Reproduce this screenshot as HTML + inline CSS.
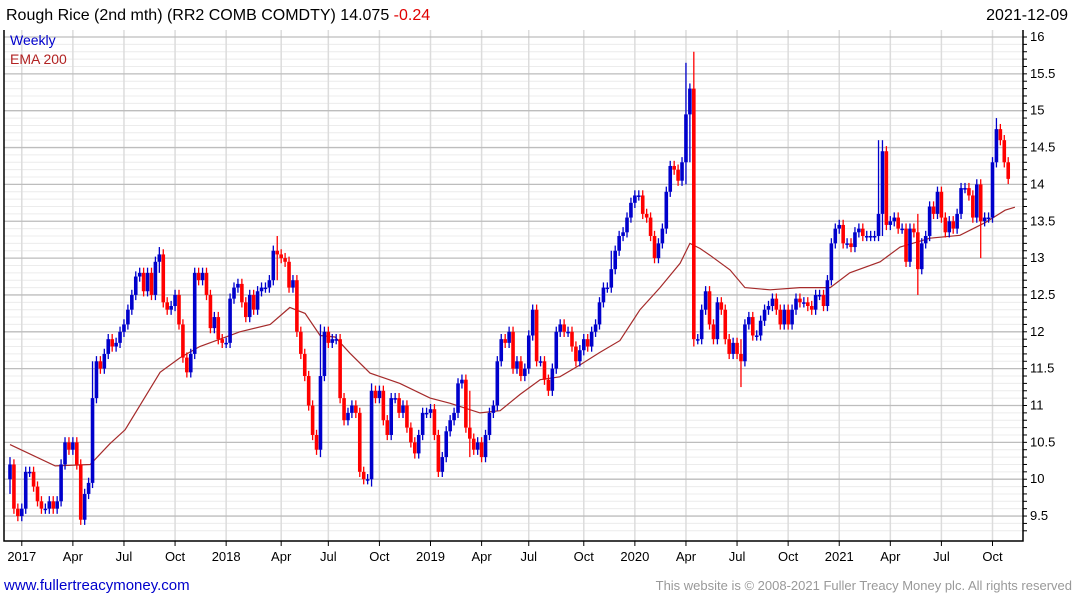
<!DOCTYPE html>
<html><head><meta charset="utf-8"><style>
body{margin:0;background:#fff;font-family:"Liberation Sans",sans-serif;}
svg text{font-family:"Liberation Sans",sans-serif;}
</style></head><body>
<svg id="chart" width="1075" height="600" xmlns="http://www.w3.org/2000/svg">
<text x="6" y="20" font-size="16" fill="#000">Rough Rice (2nd mth) (RR2 COMB COMDTY) 14.075 <tspan fill="#e00000">-0.24</tspan></text>
<text x="1068" y="20" font-size="16" text-anchor="end" fill="#000">2021-12-09</text>
<g id="grid"></g>
<g id="ema"></g>
<g id="candles"></g>
<g id="axes"></g>
<text x="10" y="45" font-size="14" fill="#0000cc">Weekly</text>
<text x="10" y="64" font-size="14" fill="#b22222">EMA 200</text>
<text x="4" y="590" font-size="15" fill="#0000cc">www.fullertreacymoney.com</text>
<text x="1072" y="590" font-size="13" text-anchor="end" fill="#999">This website is © 2008-2021 Fuller Treacy Money plc. All rights reserved</text>
</svg>
<script>
const closes=[10.2,9.6,9.5,9.6,10.1,10.1,9.9,9.7,9.6,9.6,9.7,9.6,9.7,10.2,10.5,
10.4,10.5,10.2,9.45,9.8,9.95,11.1,11.6,11.5,11.7,11.9,11.8,11.85,12.0,12.1,
12.3,12.5,12.75,12.8,12.55,12.8,12.5,12.95,13.05,12.4,12.3,12.35,12.5,12.1,11.65,
11.45,11.7,12.8,12.7,12.8,12.5,12.05,12.2,11.9,11.85,11.85,12.45,12.6,12.65,12.4,
12.2,12.5,12.3,12.55,12.6,12.6,12.7,13.1,13.05,13.0,12.95,12.6,12.7,12.0,11.7,
11.4,11.0,10.6,10.4,11.4,12.0,11.85,11.9,11.9,11.1,10.8,10.9,11.0,10.9,10.1,
10.0,10.0,11.2,11.1,11.2,10.8,10.6,11.1,11.1,10.9,11.0,10.7,10.5,10.35,10.6,
10.9,10.9,10.95,10.6,10.1,10.3,10.65,10.8,10.9,11.3,11.35,10.7,10.55,10.4,10.5,
10.3,10.6,10.9,11.0,11.6,11.9,11.85,12.0,11.5,11.6,11.4,11.5,11.95,12.3,11.6,
11.6,11.35,11.2,11.5,12.0,12.1,12.0,12.0,11.8,11.6,11.75,11.9,11.8,12.0,12.1,
12.4,12.6,12.6,12.85,13.1,13.3,13.35,13.55,13.75,13.85,13.85,13.6,13.55,13.3,13.0,
13.2,13.4,13.9,14.25,14.2,14.05,14.3,14.95,15.3,11.9,11.9,12.3,12.55,12.1,11.9,
12.4,12.3,11.9,11.7,11.85,11.7,11.6,12.1,12.2,11.95,11.95,12.15,12.3,12.35,12.45,
12.3,12.1,12.3,12.1,12.3,12.45,12.4,12.4,12.35,12.3,12.5,12.5,12.35,12.7,13.2,
13.4,13.45,13.2,13.2,13.15,13.35,13.4,13.3,13.3,13.3,13.3,13.6,14.45,13.45,13.5,
13.55,13.4,13.4,12.95,13.4,13.35,12.85,13.2,13.3,13.7,13.6,13.9,13.55,13.35,13.5,
13.4,13.6,13.95,13.95,13.85,13.55,14.0,13.5,13.55,13.55,14.3,14.75,14.6,14.3,14.075];
const firstOpen=10.0;
const spikeIdx=[0,21,38,68,79,92,117,153,172,173,174,186,221,222,231,247,251];
const spikeHigh=[10.3,11.6,13.15,13.3,12.1,11.3,11.2,13.1,15.65,15.3,15.8,11.9,14.6,14.6,13.6,13.6,14.9];
const spikeLow=[9.8,9.9,12.8,12.7,10.3,9.9,10.3,12.7,14.0,14.3,11.8,11.25,13.3,13.3,12.5,13.0,14.3];
const emaWeek=[0,11.5,20.4,25.4,29.3,38.2,43.3,48.3,58.5,66.2,71.2,75.1,78.9,82.7,86.5,91.6,99.2,106.9,112,119.6,124.7,129.8,134.9,139.9,145,150.1,155.2,160.3,165.4,170.5,173,175.6,178.1,183.2,187,193.4,201,208.7,213.7,221.4,226.5,234.1,241.7,248.1,253.2,255.7];
const emaVal=[10.47,10.18,10.2,10.48,10.67,11.45,11.65,11.8,12.0,12.1,12.33,12.25,11.95,11.93,11.71,11.44,11.3,11.1,11.03,10.9,10.93,11.15,11.35,11.39,11.55,11.72,11.88,12.3,12.6,12.93,13.2,13.13,13.04,12.84,12.6,12.57,12.6,12.6,12.8,12.95,13.15,13.27,13.31,13.48,13.65,13.69];
const yTicks=[9.5,10,10.5,11,11.5,12,12.5,13,13.5,14,14.5,15,15.5,16];
const xLabels=["2017","Apr","Jul","Oct","2018","Apr","Jul","Oct","2019","Apr","Jul","Oct","2020","Apr","Jul","Oct","2021","Apr","Jul","Oct"];
const xLabelWeek=[3,16,29,42,55,69,81,94,107,120,132,146,159,172,185,198,211,224,237,250];

const NS="http://www.w3.org/2000/svg";
const L=4,R=1023,T=30,B=541;
const yS=v=>37+(16-v)*73.7;
const xS=i=>10+i*3.93;
function mk(tag,attrs,parent){const e=document.createElementNS(NS,tag);for(const k in attrs)e.setAttribute(k,attrs[k]);parent.appendChild(e);return e;}
const grid=document.getElementById('grid'),axes=document.getElementById('axes'),cg=document.getElementById('candles'),eg=document.getElementById('ema');
for(let v=9.3;v<=16.15;v+=0.1){const y=yS(v);if(y<T||y>B)continue;
 const ln=mk('line',{x1:L,x2:R,y1:y,y2:y,stroke:'#ececec','stroke-width':1},grid);
 
 }
xLabelWeek.forEach((w,k)=>{const x=xS(w);
 const ln=mk('line',{x1:x,x2:x,y1:T,y2:B,stroke:'#dcdcdc','stroke-width':1.5},grid);
 
 
 const t=mk('text',{x:x,y:561,'font-size':13,'text-anchor':'middle',fill:'#000'},axes);t.textContent=xLabels[k];
 
 
 const tk=mk('line',{x1:x,x2:x,y1:B,y2:B+5,stroke:'#000'},axes);
 
 });
yTicks.forEach(v=>{const y=yS(v);
 const ln=mk('line',{x1:L,x2:R,y1:y,y2:y,stroke:'#bdbdbd','stroke-width':1.3},grid);
 
 
 const t=mk('text',{x:1030,y:y+4,'font-size':13,fill:'#000'},axes);t.textContent=String(v);
 
 });
for(let v=9.3;v<=16.15;v+=0.1){const y=yS(v);if(y<T||y>B)continue;
 const tk=mk('line',{x1:R,x2:R+4,y1:y,y2:y,stroke:'#000'},axes);
 
 }
const frame=mk('path',{d:`M${L},${T} V${B} H${R} V${T}`,fill:'none',stroke:'#000','stroke-width':1.5},axes);


let d='';emaWeek.forEach((w,k)=>{d+=(k?'L':'M')+xS(w).toFixed(1)+','+yS(emaVal[k]).toFixed(1);});
const ep=mk('path',{d:d,fill:'none',stroke:'#a52a2a','stroke-width':1.2},eg);


closes.forEach((c,i)=>{
 const o=i?closes[i-1]:firstOpen;
 const si=spikeIdx.indexOf(i);
 let hi=Math.max(o,c)+0.07,lo=Math.min(o,c)-0.07;
 if(si>=0){hi=Math.max(hi,spikeHigh[si]);lo=Math.min(lo,spikeLow[si]);}
 const col=c>=o?'#0000cc':'#ff0000';const x=xS(i);
 const g=mk('g',{},cg);
 
 
 mk('line',{x1:x,x2:x,y1:yS(hi),y2:yS(lo),stroke:col,'stroke-width':1.3},g);
 const top=yS(Math.max(o,c)),h=Math.max(1.5,yS(Math.min(o,c))-top);
 mk('rect',{x:x-1.8,y:top,width:3.6,height:h,fill:col},g);
});
</script>
</body></html>
